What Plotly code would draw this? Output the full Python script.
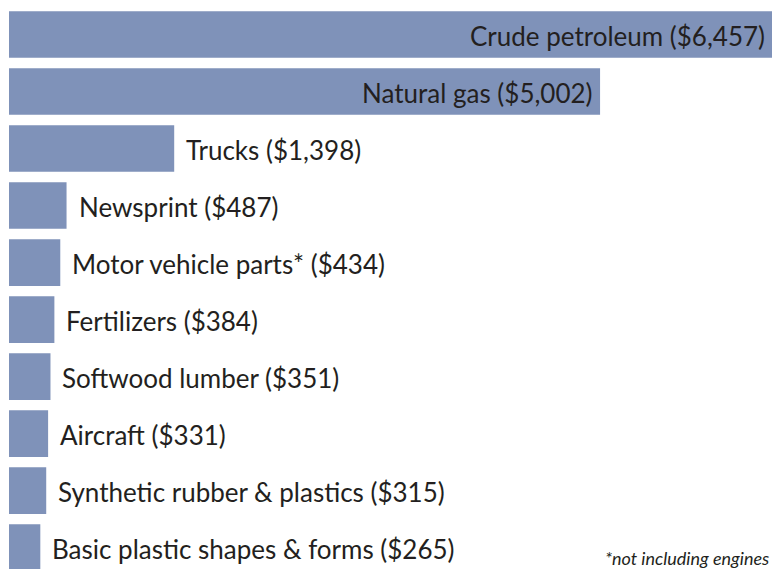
import plotly.graph_objects as go

categories = ["Crude petroleum", "Natural gas", "Trucks", "Newsprint",
              "Motor vehicle parts*", "Fertilizers", "Softwood lumber",
              "Aircraft", "Synthetic rubber & plastics", "Basic plastic shapes & forms"]
values = [6457, 5002, 1398, 487, 434, 384, 351, 331, 315, 265]
value_labels = ["$6,457", "$5,002", "$1,398", "$487", "$434", "$384",
                "$351", "$331", "$315", "$265"]
footnote = "*not including engines"

positions = list(range(len(categories)))
bar_color = "#7f92b9"
text_color = "#231f20"
font_family = "Lato"

fig = go.Figure(go.Bar(
    x=values, y=positions, orientation="h",
    marker=dict(color=bar_color, line=dict(width=0)),
    width=0.82, hoverinfo="skip",
))

annotations = []
for i, (c, v, lab) in enumerate(zip(categories, values, value_labels)):
    inside = v > 3000
    annotations.append(dict(
        x=v, y=i, xref="x", yref="y",
        text=f"{c} ({lab})", showarrow=False,
        xanchor="right" if inside else "left",
        xshift=-5 if inside else 10, yshift=-1,
        font=dict(family=font_family, size=26, color=text_color),
    ))
annotations.append(dict(
    x=1, y=0, xref="paper", yref="paper", xanchor="right", yanchor="bottom",
    text=f"<i>{footnote}</i>", showarrow=False, xshift=-1, yshift=-2,
    font=dict(family=font_family, size=18, color=text_color),
))

fig.update_layout(
    width=772, height=569,
    margin=dict(l=9, r=0, t=6, b=0),
    paper_bgcolor="white", plot_bgcolor="white",
    showlegend=False,
    xaxis=dict(range=[0, 6457], visible=False, fixedrange=True),
    yaxis=dict(range=[9.377, -0.5], visible=False, fixedrange=True),
    annotations=annotations,
)

fig.write_html("out.html", config={"displayModeBar": False})
